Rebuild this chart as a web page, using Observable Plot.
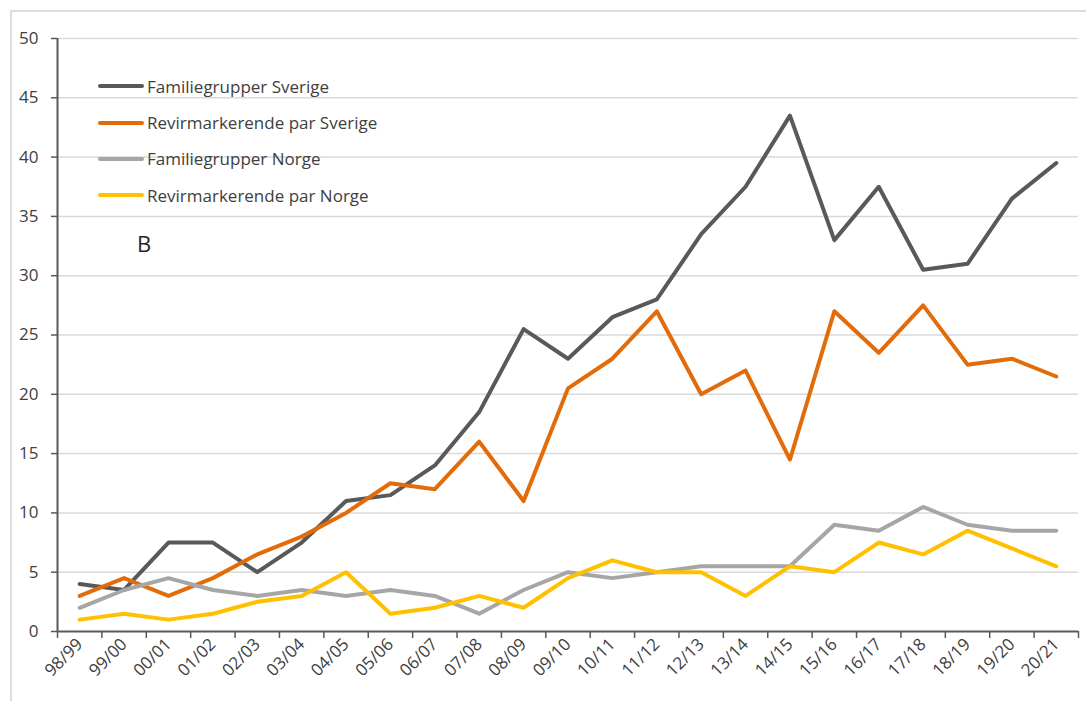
<!DOCTYPE html>
<html>
<head>
<meta charset="utf-8">
<script src="https://cdn.jsdelivr.net/npm/d3@7"></script>
<script src="https://cdn.jsdelivr.net/npm/@observablehq/plot@0.6"></script>
<style>
  body { margin: 0; background: #fff; font-family: "Open Sans", sans-serif; }
  #wrap { position: relative; width: 1086px; height: 701px; overflow: hidden; }
  #border { position: absolute; left: 10px; top: 10px; width: 1100px; height: 720px; border-top: 2px solid #dcdcdc; border-left: 2px solid #dcdcdc; }
  .legend { position: absolute; left: 98px; top: 68px; font-size: 17px; color: #404040; }
  .legend div { display: flex; align-items: center; height: 36.4px; }
  .legend span.sw { display: inline-block; width: 46px; height: 4px; margin-right: 3px; border-radius: 2px; }
  #lbl { position: absolute; left: 137px; top: 228px; font-size: 22px; color: #262626; }
  #chart svg text { font-size: 17px !important; font-family: "Open Sans", sans-serif !important; }
</style>
</head>
<body>
<div id="wrap">
  <div id="border"></div>
  <div id="chart"></div>
  <div class="legend" id="legend"></div>
  <div id="lbl">B</div>
</div>
<script>
const seasons = ["98/99","99/00","00/01","01/02","02/03","03/04","04/05","05/06","06/07","07/08","08/09","09/10","10/11","11/12","12/13","13/14","14/15","15/16","16/17","17/18","18/19","19/20","20/21"];
const seriesNames = ["Familiegrupper Sverige","Revirmarkerende par Sverige","Familiegrupper Norge","Revirmarkerende par Norge"];
const seriesColors = ["#595959","#E36C0A","#A6A6A6","#FFC000"];
const familieSverige = [4,3.5,7.5,7.5,5,7.5,11,11.5,14,18.5,25.5,23,26.5,28,33.5,37.5,43.5,33,37.5,30.5,31,36.5,39.5];
const revirSverige = [3,4.5,3,4.5,6.5,8,10,12.5,12,16,11,20.5,23,27,20,22,14.5,27,23.5,27.5,22.5,23,21.5];
const familieNorge = [2,3.5,4.5,3.5,3,3.5,3,3.5,3,1.5,3.5,5,4.5,5,5.5,5.5,5.5,9,8.5,10.5,9,8.5,8.5];
const revirNorge = [1,1.5,1,1.5,2.5,3,5,1.5,2,3,2,4.5,6,5,5,3,5.5,5,7.5,6.5,8.5,7,5.5];
const yTicks = [0,5,10,15,20,25,30,35,40,45,50];

const allSeries = [familieSverige, revirSverige, familieNorge, revirNorge];
const data = [];
allSeries.forEach((vals, s) => vals.forEach((v, i) => data.push({i, v, s: seriesNames[s]})));
const edges = d3.range(-0.5, seasons.length, 1);
const idx = d3.range(seasons.length);
const xMin = -0.5, xMax = seasons.length - 0.5;

const chart = Plot.plot({
  width: 1086,
  height: 701,
  marginLeft: 57,
  marginRight: 8,
  marginTop: 38,
  marginBottom: 70,
  style: { fontFamily: "Open Sans, sans-serif", fontSize: "17px", color: "#595959", background: "transparent" },
  x: { type: "linear", domain: [xMin, xMax] },
  y: { domain: [0, 50] },
  color: { domain: seriesNames, range: seriesColors },
  marks: [
    Plot.ruleY(yTicks.filter(d => d > 0), { stroke: "#d9d9d9", strokeWidth: 1.5, x1: xMin, x2: xMax }),
    Plot.axisY({ ticks: yTicks, tickSize: 6, tickPadding: 13, stroke: "#595959", strokeWidth: 1.5, fill: "#404040", label: null }),
    Plot.axisX({ ticks: edges, tickSize: 7, tickFormat: () => "", stroke: "#595959", strokeWidth: 1.5, label: null }),
    Plot.axisX({ ticks: idx, tickSize: 0, tickPadding: 10, tickRotate: -45, tickFormat: i => seasons[i], fill: "#404040", label: null }),
    Plot.ruleX([xMin], { stroke: "#595959", strokeWidth: 2 }),
    Plot.ruleY([0], { stroke: "#595959", strokeWidth: 2 }),
    Plot.line(data, { x: "i", y: "v", z: "s", stroke: "s", strokeWidth: 4, strokeLinejoin: "round", strokeLinecap: "round" })
  ]
});
document.getElementById("chart").appendChild(chart);

const leg = document.getElementById("legend");
seriesNames.forEach((n, k) => {
  const d = document.createElement("div");
  d.innerHTML = `<span class="sw" style="background:${seriesColors[k]}"></span>${n}`;
  leg.appendChild(d);
});
</script>
</body>
</html>
